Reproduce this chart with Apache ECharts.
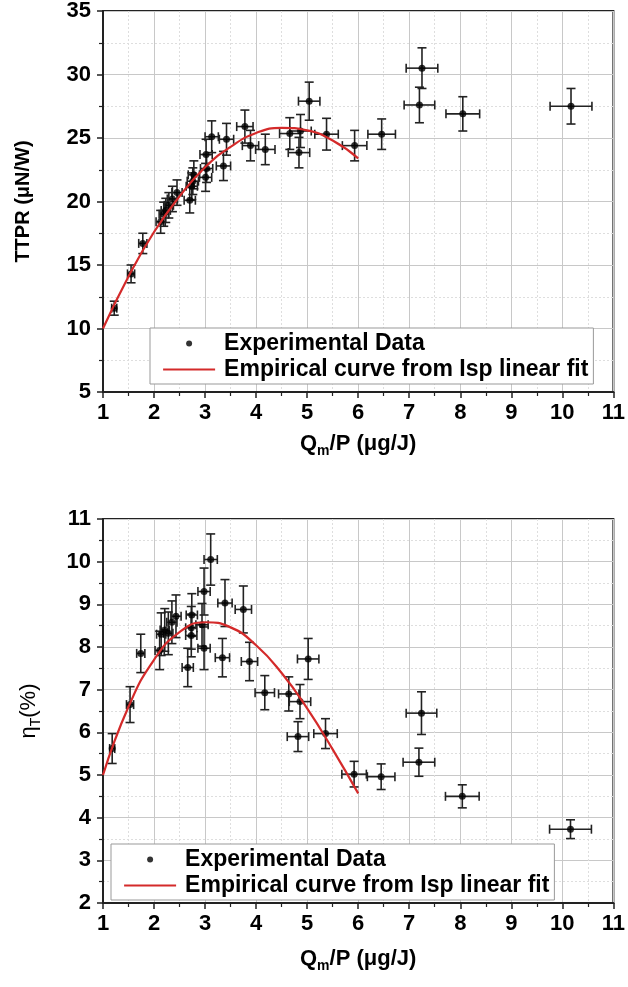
<!DOCTYPE html>
<html>
<head>
<meta charset="utf-8">
<script src="https://cdn.jsdelivr.net/npm/echarts@6/dist/echarts.min.js"></script>
<style>
html,body{margin:0;padding:0;background:#fff;}
#chart{width:628px;height:987px;}
</style>
</head>
<body>
<div id="chart"></div>
<script>
// ---- Top panel: TTPR vs Qm/P ----
const ttprX    = [1.22,1.55,1.78,2.13,2.19,2.23,2.29,2.36,2.45,2.70,2.74,2.76,2.78,3.01,3.03,3.02,3.13,3.36,3.42,3.78,3.89,4.18,4.66,4.87,4.84,5.04,5.38,5.93,6.46,7.20,7.25,8.05,10.17];
const ttprY    = [11.6,14.3,16.7,18.4,19.0,19.3,19.7,20.2,20.7,20.1,21.2,21.6,22.1,21.9,22.6,23.7,25.1,22.8,24.9,25.9,24.4,24.1,25.35,25.55,23.85,27.9,25.3,24.4,25.3,27.6,30.5,26.9,27.5];
const ttprXErr = [0.05,0.07,0.08,0.09,0.09,0.09,0.09,0.10,0.10,0.11,0.11,0.11,0.11,0.12,0.12,0.12,0.13,0.14,0.14,0.16,0.16,0.19,0.20,0.21,0.21,0.21,0.23,0.24,0.27,0.30,0.31,0.33,0.41];
const ttprYErr = [0.55,0.70,0.80,0.90,0.95,0.95,1.00,1.00,1.00,1.00,1.05,1.05,1.10,1.10,1.10,1.20,1.25,1.15,1.25,1.30,1.20,1.20,1.25,1.30,1.20,1.50,1.25,1.20,1.20,1.40,1.60,1.35,1.40];

// ---- Bottom panel: thrust efficiency vs Qm/P ----
const etaX    = [1.18,1.53,1.74,2.11,2.14,2.21,2.28,2.35,2.43,2.66,2.73,2.73,2.74,2.94,2.98,2.98,3.11,3.39,3.34,3.75,3.87,4.17,4.64,4.86,4.82,5.02,5.36,5.92,6.45,7.24,7.19,8.04,10.16];
const etaY    = [5.62,6.65,7.85,7.92,8.30,8.40,8.32,8.58,8.72,7.52,8.27,8.45,8.75,8.52,7.97,9.30,10.05,9.03,7.75,8.88,7.66,6.93,6.90,6.72,5.90,7.72,5.97,5.02,4.96,6.45,5.30,4.50,3.73];
const etaXErr = [0.05,0.07,0.08,0.09,0.09,0.09,0.09,0.10,0.10,0.11,0.11,0.11,0.11,0.12,0.12,0.12,0.13,0.14,0.14,0.16,0.16,0.19,0.20,0.21,0.21,0.21,0.23,0.24,0.27,0.30,0.31,0.33,0.41];
const etaYErr = [0.35,0.42,0.45,0.45,0.50,0.50,0.50,0.50,0.50,0.45,0.50,0.50,0.50,0.50,0.50,0.55,0.60,0.55,0.45,0.55,0.45,0.40,0.40,0.40,0.35,0.48,0.35,0.30,0.30,0.50,0.33,0.27,0.22];

// ---- Empirical curves ----
const fitX    = [1,1.5,2,2.5,3,3.5,4,4.5,5,5.5,6];
const ttprFit = [10.0,14.1,17.6,20.4,22.7,24.3,25.4,25.8,25.6,24.8,23.4];
const etaFit  = [5.0,6.6,7.7,8.35,8.58,8.46,8.04,7.39,6.56,5.6,4.57];

const xTicks = [1,2,3,4,5,6,7,8,9,10,11];

const FONT = '"Liberation Sans", Arial, sans-serif';
const LBL = {color:'#000', fontSize:22, fontWeight:'bold', fontFamily:FONT};
const nameRich = (w, fs) => ({
  a:{fontSize:fs, fontWeight:w, fontFamily:FONT, color:'#000', lineHeight:28},
  s:{fontSize:Math.round(fs*0.62), fontWeight:w, fontFamily:FONT, color:'#000', lineHeight:28, verticalAlign:'bottom', padding:[11,0,0,0]}
});

function errRender(params, api){
  const x=api.value(0), y=api.value(1), ex=api.value(2), ey=api.value(3);
  const l=api.coord([x-ex,y]), r=api.coord([x+ex,y]);
  const t=api.coord([x,y+ey]), b=api.coord([x,y-ey]);
  const c=4.5;
  const st={stroke:'#222', lineWidth:1.6};
  const ln=(x1,y1,x2,y2)=>({type:'line', shape:{x1,y1,x2,y2}, style:st});
  return {type:'group', children:[
    ln(l[0],l[1],r[0],r[1]),
    ln(t[0],t[1],b[0],b[1]),
    ln(l[0],l[1]-c,l[0],l[1]+c),
    ln(r[0],r[1]-c,r[0],r[1]+c),
    ln(t[0]-c,t[1],t[0]+c,t[1]),
    ln(b[0]-c,b[1],b[0]+c,b[1])
  ]};
}

function xAxisCfg(gi, gap){
  return {
    gridIndex:gi, type:'value', min:1, max:11, interval:1,
    name:'{a|Q}{s|m}{a|/P (μg/J)}', nameLocation:'middle', nameGap:gap,
    nameTextStyle:{rich:nameRich('bold', 22)},
    axisLine:{show:true, onZero:false, lineStyle:{color:'#222', width:2}},
    axisTick:{show:true, length:6, lineStyle:{color:'#222', width:1.5}},
    minorTick:{show:true, splitNumber:2, length:4, lineStyle:{color:'#222', width:1.2}},
    splitLine:{show:true, lineStyle:{color:'#c8c8c8', width:1}},
    minorSplitLine:{show:true, lineStyle:{color:'#dedede', width:1, type:[2,2]}},
    axisLabel:Object.assign({margin:10, formatter:(v)=> xTicks.includes(v)? String(v):''}, LBL)
  };
}
function yAxisCfg(gi, min, max, iv, name, w, fs, gap){
  return {
    gridIndex:gi, type:'value', min, max, interval:iv,
    name, nameLocation:'middle', nameGap:gap, nameRotate:90,
    nameTextStyle:{rich:nameRich(w, fs)},
    axisLine:{show:true, onZero:false, lineStyle:{color:'#222', width:2}},
    axisTick:{show:true, length:6, lineStyle:{color:'#222', width:1.5}},
    minorTick:{show:true, splitNumber:2, length:4, lineStyle:{color:'#222', width:1.2}},
    splitLine:{show:true, lineStyle:{color:'#c8c8c8', width:1}},
    minorSplitLine:{show:true, lineStyle:{color:'#dedede', width:1, type:[2,2]}},
    axisLabel:Object.assign({margin:12}, LBL)
  };
}

const errTop = ttprX.map((v,i)=>[v, ttprY[i], ttprXErr[i], ttprYErr[i]]);
const errBot = etaX.map((v,i)=>[v, etaY[i], etaXErr[i], etaYErr[i]]);
const ptsTop = ttprX.map((v,i)=>[v, ttprY[i]]);
const ptsBot = etaX.map((v,i)=>[v, etaY[i]]);
const fitTop = fitX.map((v,i)=>[v, ttprFit[i]]);
const fitBot = fitX.map((v,i)=>[v, etaFit[i]]);

const legendCommon = {
  orient:'vertical', itemWidth:52, itemHeight:6, itemGap:3,
  backgroundColor:'#fff', borderColor:'#999', borderWidth:1,
  padding:[4,5,3,12],
  textStyle:{fontSize:23, fontWeight:'bold', fontFamily:FONT, color:'#000', padding:[0,0,0,4]},
  data:[
    {name:'Experimental Data', icon:'circle'},
    {name:'Empirical curve from Isp linear fit', itemStyle:{opacity:0}, lineStyle:{color:'#d42a2a', width:2.2}}
  ],
  selectedMode:false
};

const chart = echarts.init(document.getElementById('chart'), null, {renderer:'canvas'});
chart.setOption({
  backgroundColor:'#fff',
  animation:false,
  grid:[
    {left:103, top:9, width:514, height:383, show:true, borderColor:'#222', borderWidth:2},
    {left:103, top:519, width:514, height:384, show:true, borderColor:'#222', borderWidth:2}
  ],
  xAxis:[xAxisCfg(0, 38), xAxisCfg(1, 42)],
  yAxis:[
    yAxisCfg(0, 5, 35, 5, '{a|TTPR (μN/W)}', 'bold', 20, 66),
    yAxisCfg(1, 2, 11, 1, '{a|η}{s|T}{a|(%)}', 'normal', 22, 60)
  ],
  legend:[
    Object.assign({left:150, top:328}, legendCommon),
    Object.assign({left:111, top:844}, legendCommon)
  ],
  series:[
    {type:'custom', name:'errTop', xAxisIndex:0, yAxisIndex:0, renderItem:errRender, data:errTop, encode:{x:0,y:1}, z:3},
    {type:'scatter', name:'Experimental Data', xAxisIndex:0, yAxisIndex:0, data:ptsTop, symbol:'circle', symbolSize:7, itemStyle:{color:'#000'}, z:4},
    {type:'line', name:'Empirical curve from Isp linear fit', xAxisIndex:0, yAxisIndex:0, data:fitTop, smooth:true, showSymbol:false, symbol:'none', lineStyle:{color:'#d42a2a', width:2.2}, itemStyle:{color:'#d42a2a'}, z:5},
    {type:'custom', name:'errBot', xAxisIndex:1, yAxisIndex:1, renderItem:errRender, data:errBot, encode:{x:0,y:1}, z:3},
    {type:'scatter', name:'Experimental Data', xAxisIndex:1, yAxisIndex:1, data:ptsBot, symbol:'circle', symbolSize:7, itemStyle:{color:'#000'}, z:4},
    {type:'line', name:'Empirical curve from Isp linear fit', xAxisIndex:1, yAxisIndex:1, data:fitBot, smooth:true, showSymbol:false, symbol:'none', lineStyle:{color:'#d42a2a', width:2.2}, itemStyle:{color:'#d42a2a'}, z:5}
  ]
});
</script>
</body>
</html>
